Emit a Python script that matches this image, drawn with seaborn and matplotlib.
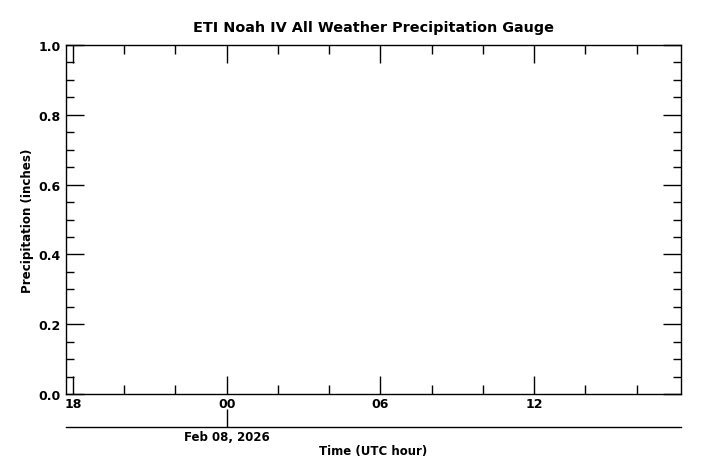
import datetime as dt
import pandas as pd
import seaborn as sns
import matplotlib.pyplot as plt
import matplotlib.dates as mdates
from matplotlib.ticker import MultipleLocator

# no gauge readings in the window, so the series is empty
times = []
precip = []
start = dt.datetime(2026, 2, 7, 17, 43, 38)
end = start + dt.timedelta(hours=24)
y_limits = [0.0, 1.0]
date_tick = dt.datetime(2026, 2, 8, 0, 0)
date_label = 'Feb 08, 2026'

df = pd.DataFrame({'time': pd.to_datetime(pd.Series(times, dtype='object')),
                   'precip': pd.Series(precip, dtype=float)})

sns.set_style('ticks')
plt.rcParams['font.family'] = ['DejaVu Sans']
plt.rcParams['font.weight'] = 'bold'
plt.rcParams['text.color'] = 'black'
plt.rcParams['axes.labelcolor'] = 'black'
plt.rcParams['xtick.color'] = 'black'
plt.rcParams['ytick.color'] = 'black'

fig = plt.figure(figsize=(7.03, 4.77), dpi=100)
ax = fig.add_axes([66 / 703, 82 / 477, 615 / 703, 349 / 477])

if len(df):
    sns.lineplot(data=df, x='time', y='precip', ax=ax, color='black')

ax.set_xlim(start, end)
ax.set_ylim(*y_limits)

ax.xaxis.set_major_locator(mdates.HourLocator(byhour=[0, 6, 12, 18]))
ax.xaxis.set_major_formatter(mdates.DateFormatter('%H'))
ax.xaxis.set_minor_locator(mdates.HourLocator(byhour=range(0, 24, 2)))
ax.yaxis.set_major_locator(MultipleLocator(0.2))
ax.yaxis.set_minor_locator(MultipleLocator(0.05))
ax.yaxis.set_major_formatter(plt.FormatStrFormatter('%.1f'))

ax.tick_params(which='both', direction='in', top=True, right=True,
               color='black', labelcolor='black', width=1, labelsize=9)
ax.tick_params(axis='x', which='major', length=13, pad=2)
ax.tick_params(axis='y', which='major', length=13, pad=4)
ax.tick_params(axis='x', which='minor', length=6.5)
ax.tick_params(axis='y', which='minor', length=5.8)
for lab in ax.get_xticklabels() + ax.get_yticklabels():
    lab.set_fontweight('bold')
for s in ax.spines.values():
    s.set_color('black')
    s.set_linewidth(1)

# date axis underneath
sec = ax.secondary_xaxis(-33 / 349)
sec.set_xticks([date_tick])
sec.set_xticklabels([date_label], fontweight='bold', fontsize=8.5)
sec.tick_params(direction='in', length=13, width=1, color='black',
                labelcolor='black', pad=2)
sec.spines['bottom'].set_color('black')
sec.spines['bottom'].set_linewidth(1)
sec.set_xlabel('Time (UTC hour)', fontweight='bold', fontsize=8.5,
               labelpad=1, color='black')

ax.set_xlabel('')
ax.set_ylabel('Precipitation (inches)', fontweight='bold', fontsize=8.6,
              labelpad=3, color='black')
ax.set_title('ETI Noah IV All Weather Precipitation Gauge', fontweight='bold',
             fontsize=10.4, pad=10, color='black')

fig.savefig('out.png', dpi=100)
